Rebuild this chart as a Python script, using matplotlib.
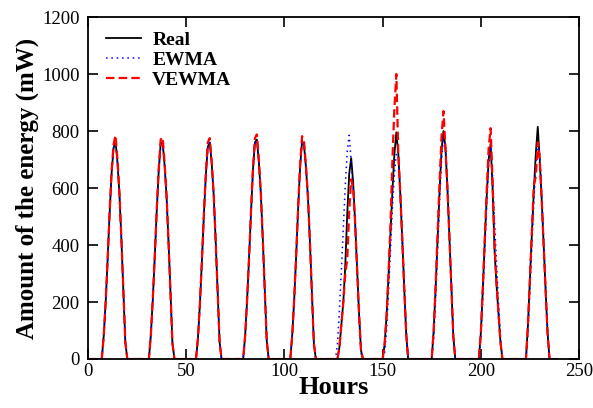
import numpy as np
import matplotlib
matplotlib.use('Agg')
import matplotlib.pyplot as plt

plt.rcParams['font.family'] = ['Liberation Serif', 'DejaVu Serif']

# energia medida e prevista, uma linha por dia (24 horas)
real = [
    0, 0, 0, 0, 0, 0, 0, 0, 80, 200, 350, 510, 650, 740, 765, 690, 580, 420, 240, 60, 0, 0, 0, 0,
    0, 0, 0, 0, 0, 0, 0, 0, 85, 210, 360, 520, 660, 755, 760, 680, 570, 410, 235, 55, 0, 0, 0, 0,
    0, 0, 0, 0, 0, 0, 0, 0, 75, 195, 345, 505, 645, 745, 760, 685, 575, 415, 240, 60, 0, 0, 0, 0,
    0, 0, 0, 0, 0, 0, 0, 0, 80, 205, 355, 515, 665, 760, 770, 690, 580, 420, 245, 65, 0, 0, 0, 0,
    0, 0, 0, 0, 0, 0, 0, 0, 85, 210, 365, 530, 675, 765, 750, 670, 565, 410, 235, 55, 0, 0, 0, 0,
    0, 0, 0, 0, 0, 0, 0, 0, 40, 120, 200, 330, 510, 650, 705, 620, 480, 320, 160, 30, 0, 0, 0, 0,
    0, 0, 0, 0, 0, 0, 0, 50, 150, 290, 440, 590, 720, 795, 720, 580, 420, 250, 90, 0, 0, 0, 0, 0,
    0, 0, 0, 0, 0, 0, 0, 0, 100, 250, 420, 590, 730, 800, 740, 600, 430, 250, 80, 0, 0, 0, 0, 0,
    0, 0, 0, 0, 0, 0, 0, 0, 90, 240, 410, 570, 700, 756, 600, 380, 260, 160, 60, 0, 0, 0, 0, 0,
    0, 0, 0, 0, 0, 0, 0, 0, 120, 280, 440, 590, 720, 815, 700, 560, 400, 240, 90, 0, 0, 0, 0, 0,
]
ewma = [
    0, 0, 0, 0, 0, 0, 0, 0, 78, 198, 348, 508, 648, 740, 763, 690, 580, 420, 240, 60, 0, 0, 0, 0,
    0, 0, 0, 0, 0, 0, 0, 0, 83, 208, 358, 518, 660, 753, 760, 681, 571, 411, 236, 56, 0, 0, 0, 0,
    0, 0, 0, 0, 0, 0, 0, 0, 74, 193, 343, 503, 645, 744, 759, 685, 575, 415, 240, 60, 0, 0, 0, 0,
    0, 0, 0, 0, 0, 0, 0, 0, 79, 203, 353, 513, 664, 759, 769, 690, 580, 420, 245, 65, 0, 0, 0, 0,
    0, 0, 0, 0, 0, 0, 0, 0, 84, 208, 363, 528, 674, 764, 751, 671, 566, 411, 236, 56, 0, 0, 0, 0,
    0, 0, 0, 0, 0, 0, 0, 50, 170, 310, 460, 610, 730, 785, 690, 600, 470, 310, 150, 20, 0, 0, 0, 0,
    0, 0, 0, 0, 0, 0, 0, 20, 100, 230, 380, 530, 650, 720, 710, 600, 440, 270, 110, 0, 0, 0, 0, 0,
    0, 0, 0, 0, 0, 0, 0, 0, 70, 210, 380, 550, 700, 780, 750, 610, 440, 260, 90, 0, 0, 0, 0, 0,
    0, 0, 0, 0, 0, 0, 0, 0, 70, 210, 380, 540, 680, 745, 640, 480, 340, 200, 80, 0, 0, 0, 0, 0,
    0, 0, 0, 0, 0, 0, 0, 0, 90, 240, 400, 550, 680, 755, 720, 580, 420, 260, 100, 0, 0, 0, 0, 0,
]
vewma = [
    0, 0, 0, 0, 0, 0, 0, 0, 80, 202, 352, 515, 658, 752, 785, 700, 584, 422, 241, 60, 0, 0, 0, 0,
    0, 0, 0, 0, 0, 0, 0, 0, 85, 212, 362, 525, 668, 770, 778, 688, 574, 412, 236, 55, 0, 0, 0, 0,
    0, 0, 0, 0, 0, 0, 0, 0, 75, 197, 347, 510, 652, 760, 775, 692, 578, 416, 241, 60, 0, 0, 0, 0,
    0, 0, 0, 0, 0, 0, 0, 0, 80, 207, 357, 520, 672, 775, 788, 698, 584, 422, 246, 65, 0, 0, 0, 0,
    0, 0, 0, 0, 0, 0, 0, 0, 85, 212, 367, 535, 682, 782, 762, 676, 568, 411, 236, 55, 0, 0, 0, 0,
    0, 0, 0, 0, 0, 0, 0, 0, 40, 120, 200, 300, 350, 520, 630, 600, 480, 320, 160, 30, 0, 0, 0, 0,
    0, 0, 0, 0, 0, 0, 0, 50, 150, 300, 470, 700, 880, 1000, 720, 580, 420, 250, 90, 0, 0, 0, 0, 0,
    0, 0, 0, 0, 0, 0, 0, 0, 100, 260, 440, 620, 780, 870, 740, 600, 430, 250, 80, 0, 0, 0, 0, 0,
    0, 0, 0, 0, 0, 0, 0, 0, 90, 250, 420, 590, 740, 810, 620, 400, 270, 160, 60, 0, 0, 0, 0, 0,
    0, 0, 0, 0, 0, 0, 0, 0, 120, 280, 450, 610, 640, 760, 700, 560, 400, 240, 90, 0, 0, 0, 0, 0,
]
hours = np.arange(len(real))

fig = plt.figure(figsize=(5.93, 4.08), dpi=100)
ax = fig.add_axes([0.1484, 0.1201, 0.828, 0.8382])

ax.plot(hours, real, color='black', lw=1.3, label='Real')
ax.plot(hours, ewma, color='blue', lw=1.1, dashes=(1, 2.5), label='EWMA')
ax.plot(hours, vewma, color='red', lw=1.6, dashes=(3.8, 1.9), label='VEWMA')

ax.set_xlim(0, 250)
ax.set_ylim(0, 1200)
ax.set_xticks([0, 50, 100, 150, 200, 250])
ax.set_yticks([0, 200, 400, 600, 800, 1000, 1200])
ax.tick_params(direction='in', top=True, right=True, length=7, width=1.2,
               labelsize=13.5)
ax.tick_params(axis='y', pad=6)
ax.tick_params(axis='x', pad=3)
for s in ax.spines.values():
    s.set_linewidth(1.3)

ax.set_xlabel('Hours', fontsize=19, fontweight='bold', labelpad=-3)
ax.set_ylabel('Amount of the energy (mW)', fontsize=18, fontweight='bold', labelpad=2)

ax.legend(loc='upper left', frameon=False, prop={'weight': 'bold', 'size': 14},
          handlelength=1.8, handletextpad=0.6, labelspacing=0.12,
          borderaxespad=0.5, bbox_to_anchor=(0.0, 1.01))

plt.savefig('out.png', dpi=100)
